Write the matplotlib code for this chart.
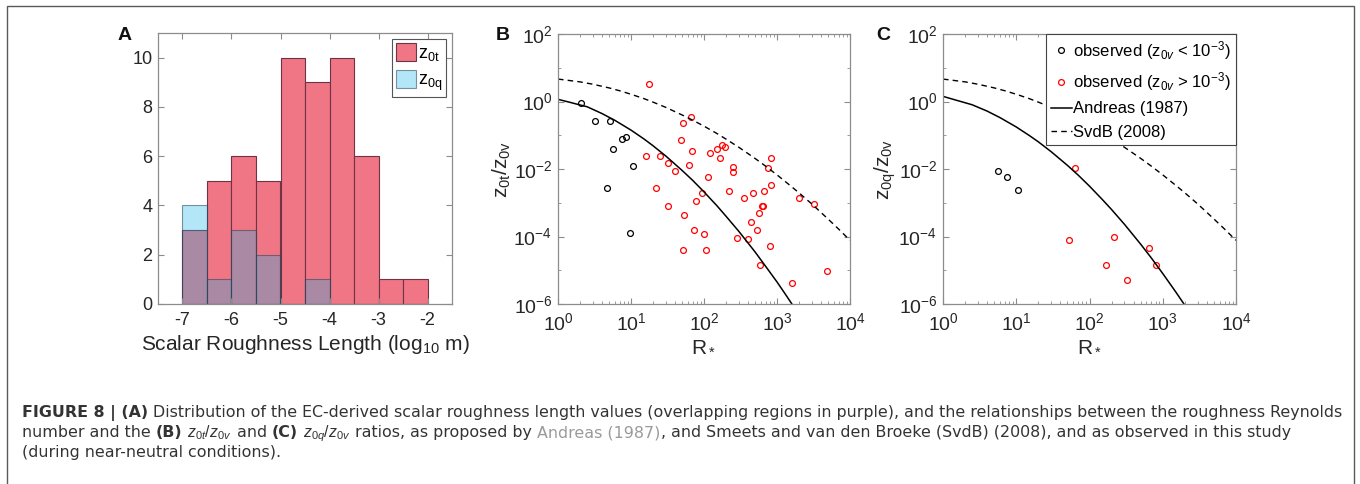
import numpy as np
import matplotlib
matplotlib.use("Agg")
import matplotlib.pyplot as plt
from matplotlib.patches import Rectangle
from matplotlib.ticker import LogLocator, NullFormatter, FixedLocator

plt.rcParams['font.family'] = ['Liberation Sans', 'DejaVu Sans']
plt.rcParams['mathtext.fontset'] = 'custom'
plt.rcParams['mathtext.rm'] = 'Liberation Sans'
plt.rcParams['mathtext.it'] = 'Liberation Sans:italic'
plt.rcParams['mathtext.bf'] = 'Liberation Sans:bold'
plt.rcParams['axes.unicode_minus'] = False

W, H = 1360, 484

# ---- panel A: histogram of log10 roughness lengths ----
bin_left = [-7.0, -6.5, -6.0, -5.5, -5.0, -4.5, -4.0, -3.5, -3.0, -2.5]
count_z0t = [3, 5, 6, 5, 10, 9, 10, 6, 1, 1]
count_z0q = [4, 1, 3, 2, 0, 1, 0, 0, 0, 0]

# ---- panel B: z0t/z0v vs R* ----
b_black_R = [2.09, 3.24, 5.2, 5.66, 7.5, 8.5, 10.5, 4.73, 9.77]
b_black_v = [0.89, 0.267, 0.267, 0.039, 0.080, 0.089, 0.0123, 0.00267, 1.29e-4]
b_red_R = [17.7, 66.7, 50.8, 48.2, 68.9, 16, 24.6, 32, 39.5, 63.2, 21.7, 32,
           52.4, 72.6, 99.5, 50.8, 107, 78.9, 93.4, 115, 121, 153, 166, 179,
           195, 251, 251, 219, 287, 354, 406, 438, 466, 534, 569, 625, 652,
           581, 659, 764, 839, 822, 804, 1625, 2005, 3250, 4845]
b_red_v = [3.27, 0.35, 0.238, 0.073, 0.035, 0.0238, 0.0249, 0.0154, 0.0085,
           0.0134, 0.00267, 8.1e-4, 4.3e-4, 1.58e-4, 1.2e-4, 4.1e-5, 4.1e-5,
           1.1e-3, 1.9e-3, 5.6e-3, 0.0299, 0.039, 0.0207, 0.0516, 0.044,
           0.0117, 0.0081, 2.2e-3, 8.9e-5, 1.4e-3, 8.5e-5, 2.6e-4, 2.0e-3,
           1.54e-4, 4.9e-4, 8.1e-4, 8.1e-4, 1.47e-5, 2.2e-3, 0.0105, 0.0217,
           3.3e-3, 5.4e-5, 4.2e-6, 1.35e-3, 9.3e-4, 9.3e-6]

# ---- panel C: z0q/z0v vs R* ----
c_black_R = [5.64, 7.48, 10.6]
c_black_v = [0.00865, 0.00588, 0.00232]
c_red_R = [63.4, 52, 216, 166, 320, 649, 809]
c_red_v = [0.0109, 7.7e-5, 9.6e-5, 1.43e-5, 5.2e-6, 4.5e-5, 1.43e-5]

# curves
andreas_t_R = [1, 1.5, 2, 2.5, 4, 6, 10, 15, 20, 30, 50, 70, 100, 150, 200,
               300, 500, 700, 1000, 1300, 1600, 1800]
andreas_t_v = [1.16, 0.93, 0.79, 0.70, 0.44, 0.277, 0.142, 0.078, 0.049,
               0.0242, 0.0091, 4.6e-3, 2.1e-3, 8.2e-4, 4.0e-4, 1.42e-4,
               3.5e-5, 1.3e-5, 4.5e-6, 1.96e-6, 1.0e-6, 6.8e-7]
andreas_q_R = [1, 1.5, 2, 2.5, 4, 6, 10, 15, 20, 30, 50, 70, 100, 150, 200,
               300, 500, 700, 1000, 1500, 2000]
andreas_q_v = [1.42, 1.10, 0.92, 0.80, 0.52, 0.333, 0.176, 0.099, 0.064,
               0.0325, 0.0128, 6.6e-3, 3.1e-3, 1.24e-3, 6.3e-4, 2.3e-4,
               5.9e-5, 2.3e-5, 8.0e-6, 2.3e-6, 9.2e-7]
svdb_R = [1, 2, 3, 5, 7, 10, 15, 20, 30, 50, 70, 100, 150, 200, 300, 500,
          700, 1000, 1500, 2000, 3000, 5000, 7000, 10000]
svdb_v = [4.62, 3.82, 3.25, 2.53, 2.08, 1.64, 1.22, 0.96, 0.67, 0.40, 0.28,
          0.186, 0.113, 0.077, 0.044, 0.0206, 0.0121, 6.7e-3, 3.3e-3,
          1.97e-3, 9.2e-4, 3.3e-4, 1.65e-4, 7.7e-5]

spine_c = '#8c8c8c'
txt_c = '#262626'
fs = 13
lab_fs = 15

fig = plt.figure(figsize=(W / 100, H / 100), dpi=100)


def px_axes(x0, x1, y0, y1):
    return fig.add_axes([x0 / W, 1 - y1 / H, (x1 - x0) / W, (y1 - y0) / H])


def style(ax, size):
    for s in ax.spines.values():
        s.set_color(spine_c)
        s.set_linewidth(0.9)
    ax.tick_params(which='both', direction='in', top=True, right=True,
                   color=spine_c, labelcolor=txt_c, labelsize=size)
    ax.tick_params(which='major', length=4)
    ax.tick_params(which='minor', length=2)
    ax.tick_params(axis='x', which='both', pad=6)
    ax.tick_params(axis='y', which='both', pad=4)


# panel A
axA = px_axes(158, 452, 33, 304)
axA.bar(bin_left, count_z0t, width=0.5, align='edge', color='#F07685',
        edgecolor='#6e3446', linewidth=0.8, label=r'$\mathregular{z_{0t}}$')
axA.bar(bin_left, count_z0q, width=0.5, align='edge',
        color=(19 / 255, 178 / 255, 231 / 255, 0.32),
        edgecolor=(0.15, 0.25, 0.35, 0.55), linewidth=0.8,
        label=r'$\mathregular{z_{0q}}$')
axA.set_xlim(-7.5, -1.5)
axA.set_ylim(0, 11)
axA.set_xticks([-7, -6, -5, -4, -3, -2])
axA.set_yticks([0, 2, 4, 6, 8, 10])
style(axA, fs)
axA.set_xlabel(r'Scalar Roughness Length (log$_{10}$ m)', fontsize=lab_fs,
               color=txt_c, labelpad=3)
legA = axA.legend(loc='upper right', fontsize=fs, fancybox=False,
                  edgecolor='#555555', framealpha=1, borderaxespad=0.35,
                  handlelength=1.1, handleheight=1.2, handletextpad=0.1,
                  borderpad=0.2, labelspacing=0.35)
legA.get_frame().set_linewidth(0.8)


def scatter_panel(ax, bR, bv, rR, rv, curveR, curvev, ylab):
    h1, = ax.plot(bR, bv, 'o', mfc='none', mec='k', ms=4.2, mew=0.9,
                  label=r'observed (z$_{0v}$ < 10$^{-3}$)')
    h2, = ax.plot(rR, rv, 'o', mfc='none', mec='#ff0000', ms=4.2, mew=0.9,
                  label=r'observed (z$_{0v}$ > 10$^{-3}$)')
    h3, = ax.plot(curveR, curvev, '-', color='k', lw=1.1, label='Andreas (1987)')
    h4, = ax.plot(svdb_R, svdb_v, color='k', lw=1.0, ls=(0, (4, 3)),
                  label='SvdB (2008)')
    ax.set_xscale('log')
    ax.set_yscale('log')
    ax.set_xlim(1, 1e4)
    ax.set_ylim(1e-6, 1e2)
    ax.yaxis.set_major_locator(FixedLocator([1e-6, 1e-4, 1e-2, 1e0, 1e2]))
    ax.yaxis.set_minor_locator(FixedLocator([1e-5, 1e-3, 1e-1, 1e1]))
    ax.yaxis.set_minor_formatter(NullFormatter())
    ax.xaxis.set_major_locator(LogLocator(base=10, numticks=10))
    ax.xaxis.set_minor_locator(LogLocator(base=10, subs=np.arange(2, 10), numticks=20))
    ax.xaxis.set_minor_formatter(NullFormatter())
    style(ax, 14)
    ax.set_xlabel(r'$\mathregular{R_*}$', fontsize=lab_fs, color=txt_c, labelpad=1)
    ax.set_ylabel(ylab, fontsize=lab_fs, color=txt_c, labelpad=0)
    return [h1, h2, h3, h4]


axB = px_axes(558, 850, 34, 304)
scatter_panel(axB, b_black_R, b_black_v, b_red_R, b_red_v,
              andreas_t_R, andreas_t_v, r'$\mathregular{z_{0t}/z_{0v}}$')

axC = px_axes(943, 1236, 34, 304)
hs = scatter_panel(axC, c_black_R, c_black_v, c_red_R, c_red_v,
                   andreas_q_R, andreas_q_v, r'$\mathregular{z_{0q}/z_{0v}}$')
legC = axC.legend(handles=hs, loc='upper right', fontsize=12, fancybox=False,
                  edgecolor='#444444', framealpha=1, borderaxespad=0,
                  handlelength=1.25, handletextpad=0.1, borderpad=0.3,
                  labelspacing=0.5, numpoints=1)
legC.get_frame().set_linewidth(0.8)

# panel letters
for lx, s in [(125, 'A'), (503, 'B'), (883, 'C')]:
    fig.text(lx / W, 1 - 35 / H, s, fontsize=14, fontweight='bold',
             ha='center', va='center', color='#111111')

# outer frame
fig.patches.append(Rectangle((7 / W, -0.05), (1354 - 7) / W, 1 - 6 / H + 0.05,
                             transform=fig.transFigure, fill=False,
                             edgecolor='#5a5a5a', linewidth=1.0))

# caption, drawn as runs of differently styled text
cap_font = ['DejaVu Sans']
cap_c = '#333333'
normal = dict(color=cap_c)
bold = dict(color=cap_c, fontweight='bold')
grey = dict(color='#9a9a9a')
r = fig.canvas.get_renderer()

line1 = [('FIGURE 8 | (A)', bold, False),
         ('Distribution of the EC-derived scalar roughness length values '
          '(overlapping regions in purple), and the relationships between the '
          'roughness Reynolds', normal, True)]
line2 = [('number and the', normal, False), ('(B)', bold, True),
         (r'$z_{0t}/z_{0v}$', normal, True), ('and', normal, True),
         ('(C)', bold, True), (r'$z_{0q}/z_{0v}$', normal, True),
         ('ratios, as proposed by', normal, True), ('Andreas (1987)', grey, True),
         (', and Smeets and van den Broeke (SvdB) (2008), and as observed in this study',
          normal, False)]
line3 = [('(during near-neutral conditions).', normal, False)]


def write_line(x, y, runs, size):
    t1 = fig.text(0, 0, 'a a', fontsize=size, family=cap_font)
    t2 = fig.text(0, 0, 'aa', fontsize=size, family=cap_font)
    space_w = t1.get_window_extent(r).width - t2.get_window_extent(r).width
    t1.remove()
    t2.remove()
    texts = []
    for s, kw, sp in runs:
        if sp:
            x += space_w
        t = fig.text(x / W, 1 - y / H, s, fontsize=size, ha='left',
                     va='baseline', family=cap_font, **kw)
        texts.append(t)
        x += t.get_window_extent(r).width
    return x, texts


# fit the first caption line to the width it has in the figure
end, tmp = write_line(22, 417, line1, 10)
for t in tmp:
    t.remove()
cap_fs = 10 * (1338 - 22) / (end - 22)

write_line(22, 417, line1, cap_fs)
write_line(22, 437, line2, cap_fs)
write_line(22, 457, line3, cap_fs)

fig.savefig('out.png', dpi=100)
